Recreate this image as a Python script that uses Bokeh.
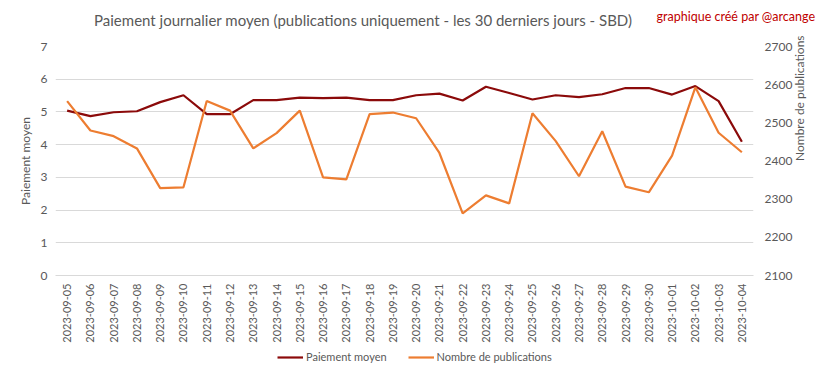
from math import pi
from bokeh.plotting import figure
from bokeh.layouts import column
from bokeh.models import Range1d, LinearAxis, Legend, LegendItem, FactorRange, FixedTicker, Div
from bokeh.embed import file_html
from bokeh.resources import INLINE

dates = ["2023-09-05", "2023-09-06", "2023-09-07", "2023-09-08", "2023-09-09", "2023-09-10",
         "2023-09-11", "2023-09-12", "2023-09-13", "2023-09-14", "2023-09-15", "2023-09-16",
         "2023-09-17", "2023-09-18", "2023-09-19", "2023-09-20", "2023-09-21", "2023-09-22",
         "2023-09-23", "2023-09-24", "2023-09-25", "2023-09-26", "2023-09-27", "2023-09-28",
         "2023-09-29", "2023-09-30", "2023-10-01", "2023-10-02", "2023-10-03", "2023-10-04"]
paiement = [5.04, 4.87, 4.99, 5.02, 5.30, 5.51, 4.93, 4.93, 5.36, 5.36, 5.44, 5.42,
            5.44, 5.36, 5.36, 5.51, 5.56, 5.35, 5.77, 5.58, 5.38, 5.51, 5.45, 5.54,
            5.73, 5.73, 5.53, 5.79, 5.33, 4.09]
publications = [2557, 2480, 2465, 2433, 2329, 2331, 2557, 2532, 2433, 2473, 2532, 2357,
                2352, 2523, 2527, 2512, 2421, 2263, 2310, 2289, 2525, 2452, 2360, 2478,
                2333, 2318, 2414, 2593, 2474, 2423]
left_ticks = [0, 1, 2, 3, 4, 5, 6, 7]
right_ticks = [2100, 2200, 2300, 2400, 2500, 2600, 2700]
series_names = ["Paiement moyen", "Nombre de publications"]
series_colors = ["#8B0A0A", "#ED7D31"]
title_text = "Paiement journalier moyen (publications uniquement  - les 30 derniers jours - SBD)"
credit_text = "graphique créé par @arcange"

FONT = "Lato"
GREY = "#595959"
HEADER_H = 36
LEGEND_H = 12
TOTAL_H = 363

header = Div(
    text=('<div style="position:relative;width:817px;height:%dpx;font-family:Lato;">'
          '<span style="position:absolute;left:0;width:726px;text-align:center;top:11px;'
          'font-size:15px;line-height:18px;color:#595959;white-space:nowrap;">%s</span>'
          '<span style="position:absolute;right:2px;top:9px;font-size:12.5px;line-height:15px;'
          'color:#C00000;white-space:nowrap;">%s</span></div>') % (HEADER_H, title_text, credit_text),
    width=817, height=HEADER_H, margin=(0, 0, 0, 0))

p = figure(width=817, height=TOTAL_H - HEADER_H - LEGEND_H, x_range=FactorRange(*dates),
           y_range=Range1d(0, 7), output_backend="svg", toolbar_location=None, margin=(0, 0, 0, 0),
           min_border_left=55, min_border_right=57, min_border_top=46 - HEADER_H,
           min_border_bottom=TOTAL_H - LEGEND_H - 275)
p.extra_y_ranges = {"pub": Range1d(2100, 2700)}
p.outline_line_color = None
p.background_fill_color = "white"
p.border_fill_color = "white"

p.xgrid.grid_line_color = None
p.ygrid.grid_line_color = "#d9d9d9"
p.ygrid.grid_line_width = 1

r1 = p.line(dates, paiement, line_color=series_colors[0], line_width=2.2)
r2 = p.line(dates, publications, y_range_name="pub", line_color=series_colors[1], line_width=2.2)

ax = p.xaxis[0]
ax.major_label_orientation = pi / 2
ax.axis_line_color = "#d9d9d9"
ax.major_tick_line_color = None
ax.minor_tick_line_color = None
ax.major_tick_out = 0
ax.major_tick_in = 0
ax.major_label_text_font = FONT
ax.major_label_text_font_size = "11px"
ax.major_label_text_color = GREY
ax.major_label_standoff = 8

ly = p.yaxis[0]
ly.ticker = FixedTicker(ticks=left_ticks)
ly.axis_line_color = None
ly.major_tick_line_color = None
ly.minor_tick_line_color = None
ly.major_tick_out = 0
ly.major_tick_in = 0
ly.major_label_standoff = 8
ly.major_label_text_font = FONT
ly.major_label_text_font_size = "12px"
ly.major_label_text_color = GREY
ly.axis_label = "Paiement moyen"
ly.axis_label_text_font = FONT
ly.axis_label_text_font_size = "12px"
ly.axis_label_text_font_style = "normal"
ly.axis_label_text_color = GREY
ly.axis_label_standoff = 5

ry = LinearAxis(y_range_name="pub", ticker=FixedTicker(ticks=right_ticks))
ry.axis_line_color = None
ry.major_tick_line_color = None
ry.minor_tick_line_color = None
ry.major_tick_out = 0
ry.major_tick_in = 0
ry.major_label_standoff = 11
ry.major_label_text_font = FONT
ry.major_label_text_font_size = "12px"
ry.major_label_text_color = GREY
ry.axis_label = "Nombre de publications"
ry.axis_label_text_font = FONT
ry.axis_label_text_font_size = "12px"
ry.axis_label_text_font_style = "normal"
ry.axis_label_text_color = GREY
ry.axis_label_standoff = 4
ry.axis_label_text_align = "center"
ry.axis_label_text_baseline = "middle"
try:
    ry.axis_label_orientation = pi / 2
except AttributeError:
    pass
p.add_layout(ry, "right")

# legend strip: a small figure whose legend shows the two series (data kept out of view)
lg = figure(width=817, height=LEGEND_H, x_range=FactorRange(*dates), y_range=Range1d(100, 101),
            output_backend="svg", toolbar_location=None, margin=(0, 0, 0, 0),
            x_axis_location=None, y_axis_location=None, min_border=0)
lg.outline_line_color = None
lg.grid.visible = False
k1 = lg.line(dates, paiement, line_color=series_colors[0], line_width=2.2)
k2 = lg.line(dates, paiement, line_color=series_colors[1], line_width=2.2)
legend = Legend(items=[LegendItem(label=series_names[0], renderers=[k1]),
                       LegendItem(label=series_names[1], renderers=[k2])],
                orientation="horizontal", location=(222, 0),
                label_text_font=FONT, label_text_font_size="11px", label_text_color=GREY,
                border_line_color=None, background_fill_alpha=0,
                glyph_width=26, glyph_height=12, label_height=12, label_standoff=3,
                spacing=21, padding=0, margin=0)
lg.add_layout(legend)

layout = column(header, p, lg, spacing=0, margin=(0, 0, 0, 0))
open("out.html", "w").write(file_html(layout, INLINE))
